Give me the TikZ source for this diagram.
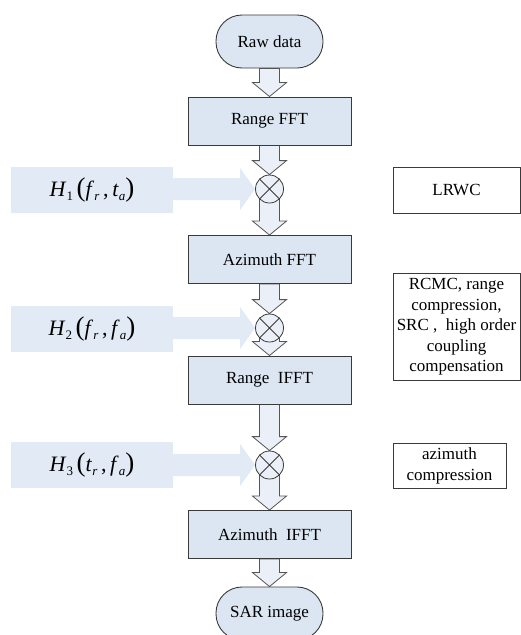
\documentclass[tikz,border=0pt]{standalone}
\usepackage{fontspec}
\setmainfont{Liberation Serif}
\usetikzlibrary{calc,backgrounds}

\definecolor{boxfill}{HTML}{DCE6F2}
\definecolor{sidefill}{HTML}{E2EAF5}
\definecolor{arrowfill}{HTML}{EBF0F8}
\definecolor{edge}{HTML}{3A3A3A}
\definecolor{arrowedge}{HTML}{555555}

% subscript and large parentheses for the transfer-function labels
\newcommand\hsub[1]{\raisebox{-4pt}{\fontsize{13}{13}\selectfont #1}}
\newcommand\bigpar[1]{{\fontsize{27}{27}\selectfont #1}}
\newcommand\hfun[3]{{\fontsize{22}{22}\selectfont\textit{H}\hsub{#1}\,\bigpar{(}\textit{#2}\hsub{\textit{r}}\,,\,\textit{#3}\hsub{\textit{a}}\bigpar{)}}}

% vertical block arrow from anchor #1 down to anchor #2
\newcommand\varrow[2]{%
  \path[blockarrow] let \p1=(#1), \p2=(#2) in
    (\x2-10pt,\y1) -- (\x2-10pt,\y2+14pt) -- (\x2-17pt,\y2+14pt) -- (\x2,\y2)
    -- (\x2+17pt,\y2+14pt) -- (\x2+10pt,\y2+14pt) -- (\x2+10pt,\y1) -- cycle;}
% horizontal wide arrow from anchor #1 to anchor #2
\newcommand\harrow[2]{%
  \path[sidearrow] let \p1=(#1), \p2=(#2) in
    (\x1,\y2+11pt) -- (\x2-15pt,\y2+11pt) -- (\x2-15pt,\y2+21pt) -- (\x2,\y2)
    -- (\x2-15pt,\y2-21pt) -- (\x2-15pt,\y2-11pt) -- (\x1,\y2-11pt) -- cycle;}

\tikzset{
  base/.style={font=\fontsize{17}{20.5}\selectfont, inner sep=0pt, align=center},
  stepbox/.style={base, draw=edge, line width=0.9pt, fill=boxfill,
    minimum width=163pt, minimum height=48pt},
  terminal/.style={base, draw=edge, line width=0.9pt, fill=boxfill,
    minimum width=107pt, minimum height=53pt, rounded corners=26pt},
  mixer/.style={circle, draw=edge, line width=0.8pt, fill=arrowfill,
    minimum size=28pt, inner sep=0pt},
  hbox/.style={base, fill=sidefill, minimum width=162pt, minimum height=46pt},
  note/.style={base, draw=edge, line width=0.9pt},
  blockarrow/.style={draw=arrowedge, line width=0.8pt, fill=arrowfill, line join=miter},
  sidearrow/.style={fill=sidefill},
}

\begin{document}
\begin{tikzpicture}[x=1pt,y=-1pt]
\useasboundingbox (0,0) rectangle (521,635);

% main processing chain
\node[terminal] (raw) at (269.5,41.5) {Raw data};
\node[stepbox] (rfft) at (269.5,121) {Range FFT};
\node[mixer] (m1) at (269.5,189) {};
\node[stepbox] (afft) at (269.5,259.5) {Azimuth FFT};
\node[mixer] (m2) at (269.5,328) {};
\node[stepbox] (rifft) at (269.5,380) {Range\ \ IFFT};
\node[mixer] (m3) at (269.5,465) {};
\node[stepbox] (aifft) at (269.5,534.5) {Azimuth\ \ IFFT};
\node[terminal] (sar) at (269.5,613.5) {SAR image};

% cross marks in the multipliers
\foreach \m in {m1,m2,m3}
  \draw[edge, line width=0.8pt] (\m.north west) -- (\m.south east)
                                (\m.north east) -- (\m.south west);

% phase functions
\node[hbox] (h1) at (92,190) {\hfun{1}{f}{t}};
\node[hbox] (h2) at (92,329) {\hfun{2}{f}{f}};
\node[hbox] (h3) at (92,465) {\hfun{3}{t}{f}};

% comments on each multiplication
\node[note, minimum width=127pt, minimum height=46pt] (n1) at (456.5,190) {LRWC};
\node[note, minimum width=127pt, minimum height=107pt] (n2) at (456.5,327)
  {RCMC, range\\compression,\\SRC ,\ \ high order\\coupling\\compensation};
\node[note, minimum width=113pt, minimum height=45pt] (n3) at (449.5,466)
  {azimuth\\compression};

% connectors
\begin{scope}[on background layer]
  \varrow{raw.south}{rfft.north}
  \varrow{rfft.south}{m1.north}
  \varrow{m1.center}{afft.north}
  \varrow{afft.south}{m2.north}
  \varrow{m2.center}{rifft.north}
  \varrow{rifft.south}{m3.north}
  \varrow{m3.center}{aifft.north}
  \varrow{aifft.south}{sar.north}
  \harrow{h1.east}{m1.west}
  \harrow{h2.east}{m2.west}
  \harrow{h3.east}{m3.west}
\end{scope}
\end{tikzpicture}
\end{document}
